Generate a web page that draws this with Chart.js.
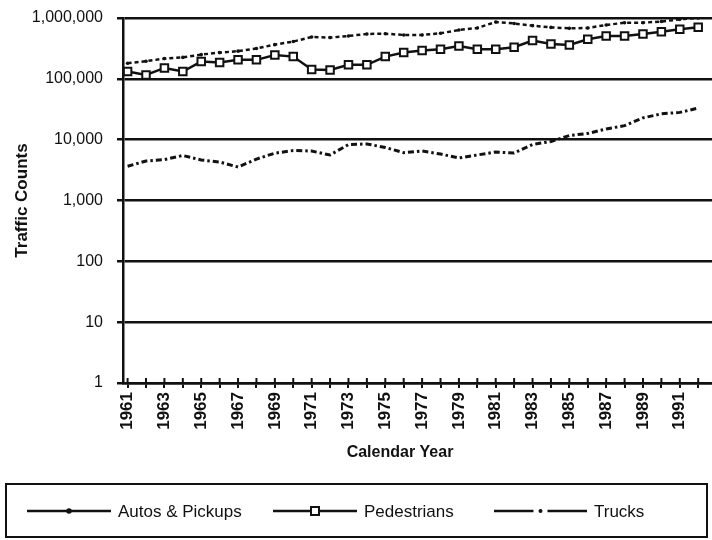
<!DOCTYPE html>
<html>
<head>
<meta charset="utf-8">
<title>Traffic Counts by Calendar Year</title>
<script src="https://cdn.jsdelivr.net/npm/chart.js@4/dist/chart.umd.min.js"></script>
<style>
  html, body { margin: 0; padding: 0; background: #fff; }
  #wrap { width: 712px; height: 540px; }
</style>
</head>
<body>
<div id="wrap"><canvas id="chart" width="712" height="540"></canvas></div>
<script>
// Calendar years on the horizontal axis
const years = [1961, 1962, 1963, 1964, 1965, 1966, 1967, 1968, 1969, 1970,
               1971, 1972, 1973, 1974, 1975, 1976, 1977, 1978, 1979, 1980,
               1981, 1982, 1983, 1984, 1985, 1986, 1987, 1988, 1989, 1990,
               1991, 1992];

// Annual traffic counts per category
const autosPickups = [180000, 195000, 215000, 225000, 250000, 270000, 285000, 315000, 365000, 410000,
                      488000, 476000, 507000, 546000, 552000, 526000, 526000, 561000, 635000, 686000,
                      860000, 813000, 748000, 700000, 676000, 686000, 767000, 837000, 837000, 875000,
                      950000, 1000000];
const pedestrians = [132000, 116000, 151000, 132000, 192000, 185000, 205000, 205000, 247000, 232000,
                     142000, 140000, 170000, 170000, 232000, 270000, 291000, 307000, 347000, 307000,
                     307000, 330000, 425000, 375000, 360000, 448000, 507000, 507000, 546000, 596000,
                     653000, 705000];
const trucks = [3650, 4460, 4710, 5490, 4630, 4290, 3550, 4800, 6000, 6630,
                6500, 5590, 8330, 8500, 7440, 6100, 6500, 5800, 5000, 5600,
                6270, 6030, 8330, 9340, 11700, 12650, 15000, 17000, 22800, 26600,
                28100, 33000];

// Tick values on the logarithmic count axis
const countTicks = [1, 10, 100, 1000, 10000, 100000, 1000000];
// Year labels printed under the axis (every other year)
const yearLabels = [1961, 1963, 1965, 1967, 1969, 1971, 1973, 1975, 1977, 1979,
                    1981, 1983, 1985, 1987, 1989, 1991];

const seriesNames = ['Autos & Pickups', 'Pedestrians', 'Trucks'];

const INK = '#111';
const FONT = '"Liberation Sans", Arial, Helvetica, sans-serif';

const toPoints = vals => vals.map((v, i) => ({ x: years[i], y: v }));

// Crossing tick marks on the x axis, the x title and the boxed legend under the chart
const chartDecor = {
  id: 'chartDecor',
  afterDraw(chart) {
    const ctx = chart.ctx;
    const xs = chart.scales.x;
    const area = chart.chartArea;

    ctx.save();
    ctx.strokeStyle = INK;
    ctx.lineWidth = 2;
    years.forEach(yr => {
      const px = xs.getPixelForValue(yr);
      ctx.beginPath();
      ctx.moveTo(px, area.bottom - 5);
      ctx.lineTo(px, area.bottom);
      ctx.stroke();
    });

    // x axis title
    ctx.fillStyle = INK;
    ctx.font = 'bold 16px ' + FONT;
    ctx.textAlign = 'center';
    ctx.textBaseline = 'middle';
    ctx.fillText('Calendar Year', 400, 453);

    // legend frame
    ctx.lineWidth = 2;
    ctx.strokeRect(6, 484, 701, 53);

    const rowY = 511;
    const slots = [
      { x0: 27, x1: 111, tx: 118 },
      { x0: 273, x1: 357, tx: 364 },
      { x0: 494, x1: 587, tx: 594 }
    ];
    chart.data.datasets.forEach((ds, i) => {
      const s = slots[i];
      const mid = (s.x0 + s.x1) / 2;
      ctx.strokeStyle = INK;
      ctx.lineWidth = 2.5;
      ctx.setLineDash([]);
      ctx.beginPath();
      if (ds.legendSample === 'gapdot') {
        ctx.moveTo(s.x0, rowY); ctx.lineTo(mid - 7, rowY);
        ctx.moveTo(mid + 7, rowY); ctx.lineTo(s.x1, rowY);
      } else {
        ctx.moveTo(s.x0, rowY); ctx.lineTo(s.x1, rowY);
      }
      ctx.stroke();
      if (ds.legendSample === 'square') {
        ctx.fillStyle = '#fff';
        ctx.lineWidth = 2;
        ctx.fillRect(mid - 4, rowY - 4, 8, 8);
        ctx.strokeRect(mid - 4, rowY - 4, 8, 8);
      } else {
        ctx.fillStyle = INK;
        ctx.beginPath();
        ctx.arc(mid, rowY, ds.legendSample === 'dot' ? 2.8 : 2.0, 0, Math.PI * 2);
        ctx.fill();
      }
      ctx.fillStyle = INK;
      ctx.font = '17px ' + FONT;
      ctx.textAlign = 'left';
      ctx.textBaseline = 'middle';
      ctx.fillText(ds.label, s.tx, rowY + 1);
    });
    ctx.restore();
  }
};

new Chart(document.getElementById('chart'), {
  type: 'line',
  data: {
    datasets: [
      {
        label: seriesNames[0],
        data: toPoints(autosPickups),
        borderColor: INK,
        borderWidth: 2.5,
        borderDash: [4, 3],
        pointRadius: 1.8,
        pointBackgroundColor: INK,
        pointBorderWidth: 0,
        legendSample: 'dot'
      },
      {
        label: seriesNames[1],
        data: toPoints(pedestrians),
        borderColor: INK,
        borderWidth: 2.5,
        pointStyle: 'rect',
        pointRadius: 5.3,
        pointBackgroundColor: '#fff',
        pointBorderColor: INK,
        pointBorderWidth: 2,
        legendSample: 'square'
      },
      {
        label: seriesNames[2],
        data: toPoints(trucks),
        borderColor: INK,
        borderWidth: 3,
        borderDash: [6, 3, 2.5, 3],
        pointRadius: 0,
        legendSample: 'gapdot'
      }
    ]
  },
  options: {
    responsive: false,
    animation: false,
    devicePixelRatio: 1,
    layout: { autoPadding: false, padding: { left: 9, right: 0, top: 18, bottom: 95 } },
    plugins: {
      legend: { display: false },
      tooltip: { enabled: false }
    },
    elements: { line: { tension: 0, fill: false } },
    scales: {
      x: {
        type: 'linear',
        min: 1960.75,
        max: 1992.75,
        afterBuildTicks: scale => { scale.ticks = years.map(v => ({ value: v })); },
        afterFit: scale => { scale.paddingLeft = 0; scale.paddingRight = 0; scale.height = 62; },
        ticks: {
          autoSkip: false,
          minRotation: 90,
          maxRotation: 90,
          padding: 4,
          color: INK,
          font: { family: FONT, size: 17, weight: 'bold' },
          callback: v => yearLabels.includes(Number(v)) ? String(v) : ''
        },
        grid: {
          drawOnChartArea: false,
          drawTicks: true,
          tickLength: 5,
          lineWidth: 2,
          color: INK
        },
        border: { display: true, width: 2.5, color: INK }
      },
      y: {
        type: 'logarithmic',
        min: 1,
        max: 1000000,
        afterBuildTicks: scale => { scale.ticks = countTicks.map(v => ({ value: v })); },
        afterFit: scale => { scale.paddingTop = 0; scale.paddingBottom = 0; scale.width = 114; },
        ticks: {
          padding: 14,
          color: INK,
          font: { family: FONT, size: 16 },
          callback: v => Number(v).toLocaleString('en-US')
        },
        grid: {
          drawTicks: true,
          tickLength: 6,
          lineWidth: 2.5,
          color: INK
        },
        border: { display: true, width: 2.5, color: INK },
        title: {
          display: true,
          text: 'Traffic Counts',
          color: INK,
          font: { family: FONT, size: 17, weight: 'bold' },
          padding: { top: 3, bottom: 4 }
        }
      }
    }
  },
  plugins: [chartDecor]
});
</script>
</body>
</html>
